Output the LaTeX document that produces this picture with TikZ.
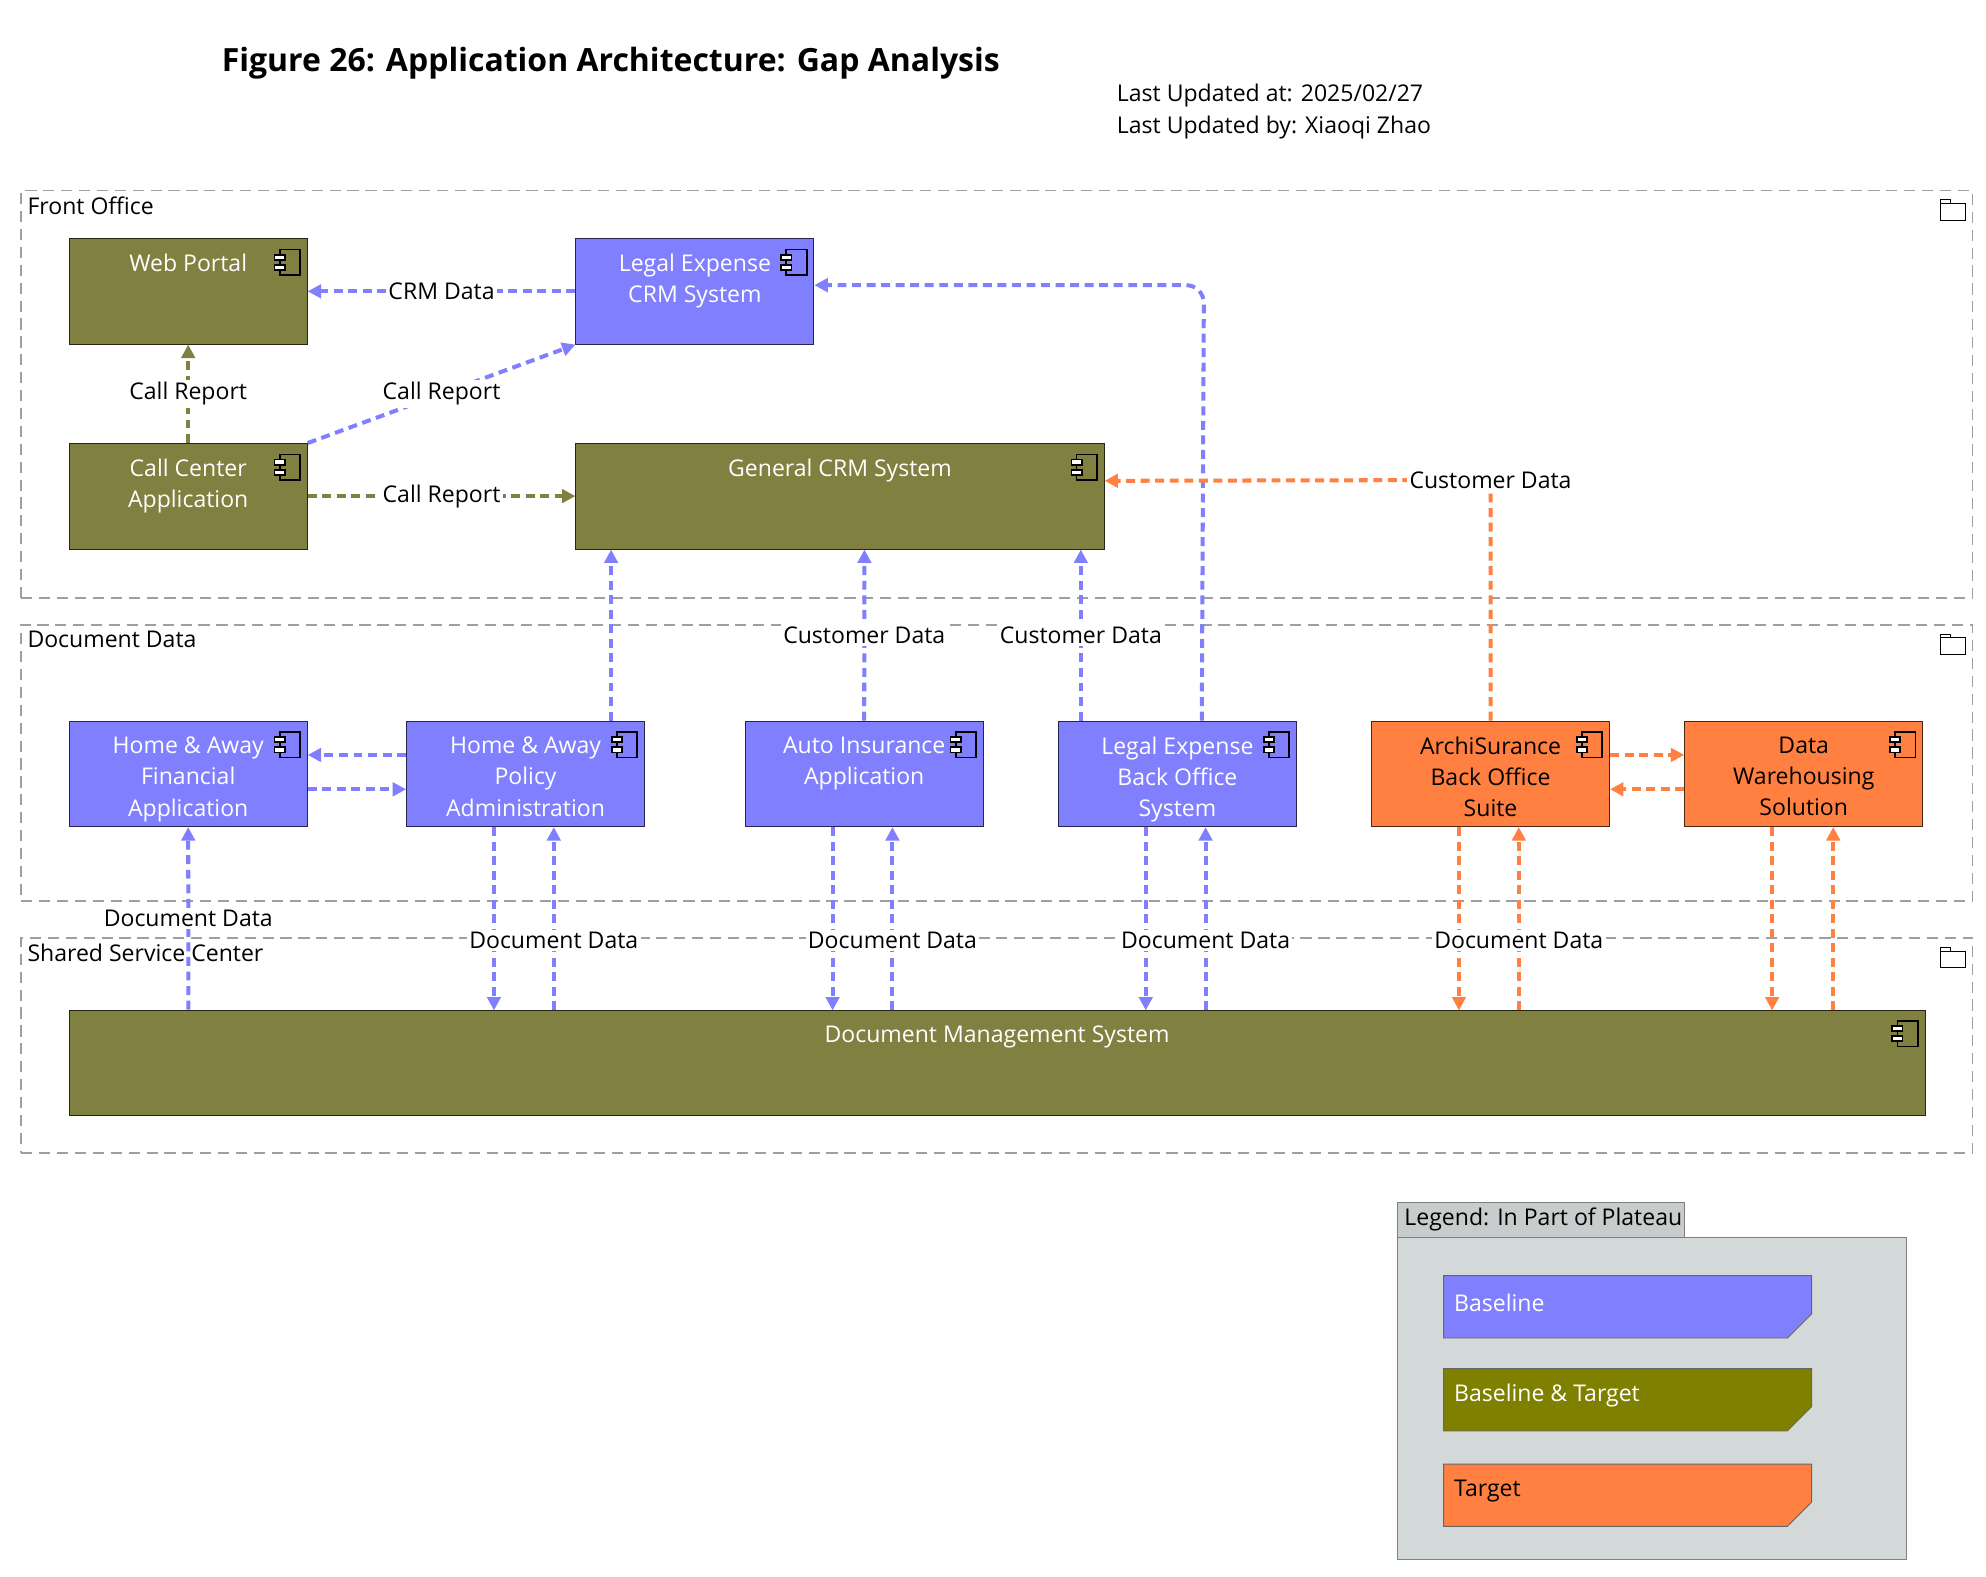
\documentclass[tikz,border=0pt]{standalone}
\usepackage{fontspec}
\setmainfont{Open Sans}
\usetikzlibrary{arrows.meta,positioning,calc}

\definecolor{baseblue}{HTML}{8080FF}
\definecolor{bothgreen}{HTML}{808040}
\definecolor{legendgreen}{HTML}{808000}
\definecolor{targetorange}{HTML}{FF8040}
\definecolor{legendbg}{HTML}{D3D9D9}
\definecolor{legendtab}{HTML}{C8CCCC}

\newcommand{\compicon}[1]{%
  \draw[thick] ($(#1.north east)+(-22,9)$) rectangle ($(#1.north east)+(-6,29)$);
  \draw[thick,fill=white] ($(#1.north east)+(-26,13)$) rectangle ($(#1.north east)+(-18,17)$);
  \draw[thick,fill=white] ($(#1.north east)+(-26,21)$) rectangle ($(#1.north east)+(-18,25)$);}
\newcommand{\foldericon}[1]{%
  \draw ($(#1.north east)+(-26,11)$) -- ++(0,-3) -- ++(8,0) -- ++(0,3) -- ++(12,0) -- ++(0,13) -- ++(-20,0) -- cycle;
  \draw ($(#1.north east)+(-26,11)$) -- ++(20,0);}

\begin{document}
\begin{tikzpicture}[x=0.02cm,y=-0.02cm,
    font=\fontsize{10.3}{14}\selectfont,
    group_box/.style={draw=gray!75,dash pattern=on 5pt off 3pt,thick,anchor=north west,inner sep=0pt},
    group_title/.style={anchor=north west,inner sep=3pt},
    comp/.style={draw=black!70!#1,fill=#1,anchor=north west,inner sep=0pt,
      minimum width=3.74cm,minimum height=1.66cm},
    comp_text/.style={anchor=north,align=center,text=white,yshift=-5pt,inner sep=2pt},
    flow/.style={-{Triangle[length=6pt,width=6pt]},line width=1.8pt,dash pattern=on 4pt off 2.5pt,draw=#1,color=#1},
    lbl/.style={fill=white,inner sep=1pt,text=black}
]
\useasboundingbox (0,0) rectangle (1560,1238);

% header
\node[anchor=west,font=\fontsize{14.3}{17}\selectfont\bfseries] (title) at (168,50) {Figure 26: Application Architecture: Gap Analysis};
\node[anchor=north west,align=left,inner sep=0pt] (stamp) at (877,66) {Last Updated at: 2025/02/27\\Last Updated by: Xiaoqi Zhao};

% groups
\node[group_box,minimum width=30.66cm,minimum height=6.4cm] (front) at (16,149) {};
\node[group_box,minimum width=30.66cm,minimum height=4.34cm] (docdata) at (16,490) {};
\node[group_box,minimum width=30.66cm,minimum height=3.38cm] (ssc) at (16,736) {};
\node[group_title] at (front.north west) {Front Office};
\node[group_title] at (docdata.north west) {Document Data};
\node[group_title] at (ssc.north west) {Shared Service Center};
\foldericon{front}
\foldericon{docdata}
\foldericon{ssc}

% front office
\node[comp=bothgreen] (web) at (54,187) {};
\node[comp=baseblue] (lecrm) at (452,187) {};
\node[comp=bothgreen] (callc) at (54,348) {};
\node[comp=bothgreen,minimum width=8.3cm] (gcrm) at (452,348) {};
% document data
\node[comp=baseblue] (haf) at (54,566) {};
\node[comp=baseblue] (hap) at (319,566) {};
\node[comp=baseblue] (auto) at (585,566) {};
\node[comp=baseblue] (lebo) at (831,566) {};
\node[comp=targetorange] (archi) at (1077,566) {};
\node[comp=targetorange] (dws) at (1323,566) {};
% shared service center
\node[comp=bothgreen,minimum width=29.16cm] (dms) at (54,793) {};

\node[comp_text] at (web.north) {Web Portal};
\node[comp_text] at (lecrm.north) {Legal Expense\\CRM System};
\node[comp_text] at (callc.north) {Call Center\\Application};
\node[comp_text] at (gcrm.north) {General CRM System};
\node[comp_text] at (haf.north) {Home \& Away\\Financial\\Application};
\node[comp_text] at (hap.north) {Home \& Away\\Policy\\Administration};
\node[comp_text] at (auto.north) {Auto Insurance\\Application};
\node[comp_text] at (lebo.north) {Legal Expense\\Back Office\\System};
\node[comp_text,text=black] at (archi.north) {ArchiSurance\\Back Office\\Suite};
\node[comp_text,text=black] at (dws.north) {Data\\Warehousing\\Solution};
\node[comp_text] at (dms.north) {Document Management System};
\foreach \n in {web,lecrm,callc,gcrm,haf,hap,auto,lebo,archi,dws,dms}
  {\compicon{\n}}

% flows in front office
\draw[flow=baseblue] (lecrm.west) -- node[lbl] {CRM Data} (web.east);
\draw[flow=baseblue] (callc.north east) -- node[lbl,pos=0.5] {Call Report} (lecrm.south west);
\draw[flow=bothgreen] (callc.north) -- node[lbl] {Call Report} (web.south);
\draw[flow=bothgreen] ($(callc.south east)+(0,-42)$) -- node[lbl] {Call Report} ($(gcrm.south west)+(0,-42)$);
\draw[flow=baseblue,rounded corners=8pt] ($(lebo.north west)+(113,0)$) -- ($(lecrm.north east)+(306,37)$) -- ($(lecrm.north east)+(0,37)$);
\draw[flow=targetorange] (archi.north) -- ($(archi.north)+(0,-189)$) node[lbl] {Customer Data} -- ($(gcrm.south east)+(0,-54)$);

% flows into general crm
\draw[flow=baseblue] ($(hap.north west)+(161,0)$) -- ($(gcrm.south west)+(28,0)$);
\draw[flow=baseblue] (auto.north) -- node[lbl] {Customer Data} ($(gcrm.south west)+(227,0)$);
\draw[flow=baseblue] ($(lebo.north west)+(18,0)$) -- node[lbl] {Customer Data} ($(gcrm.south west)+(397,0)$);

% flows inside document data
\draw[flow=baseblue] ($(hap.north west)+(0,27)$) -- ($(haf.north east)+(0,27)$);
\draw[flow=baseblue] ($(haf.north east)+(0,54)$) -- ($(hap.north west)+(0,54)$);
\draw[flow=targetorange] ($(archi.north east)+(0,27)$) -- ($(dws.north west)+(0,27)$);
\draw[flow=targetorange] ($(dws.north west)+(0,54)$) -- ($(archi.north east)+(0,54)$);

% document data exchange
\draw[flow=baseblue] ($(dms.north west)+(94,0)$) -- node[lbl] {Document Data} (haf.south);
\foreach \src/\col in {hap/baseblue, auto/baseblue, lebo/baseblue, archi/targetorange}
{
  \draw[flow=\col] ($(\src.south west)+(69,0)$) -- ($(\src.south west)+(69,144)$);
  \draw[flow=\col] ($(\src.south west)+(116,144)$) -- node[lbl,pos=0.38] {Document Data} ($(\src.south west)+(116,0)$);
}
\draw[flow=targetorange] ($(dws.south west)+(69,0)$) -- ($(dws.south west)+(69,144)$);
\draw[flow=targetorange] ($(dws.south west)+(117,144)$) -- ($(dws.south west)+(117,0)$);

% legend
\node[draw=gray,fill=legendbg,anchor=north west,minimum width=8cm,minimum height=5.06cm] (legbox) at (1097,972) {};
\node[draw=gray,fill=legendtab,anchor=south west,minimum width=4.52cm,minimum height=0.54cm,inner sep=0pt] (legtab) at (legbox.north west) {};
\node[anchor=west] at (legtab.west) {Legend: In Part of Plateau};
\foreach \y/\c/\t/\tc [count=\i] in {1002/baseblue/Baseline/white, 1075/legendgreen/Baseline \& Target/white, 1150/targetorange/Target/black}
{
  \coordinate (leg\i) at (1134,\y);
  \draw[draw=black!60,fill=\c] (leg\i) -- ++(289,0) -- ++(0,30) -- ++(-19,19) -- ++(-270,0) -- cycle;
  \node[anchor=west,text=\tc] at ($(leg\i)+(2,21)$) {\t};
}
\end{tikzpicture}
\end{document}
